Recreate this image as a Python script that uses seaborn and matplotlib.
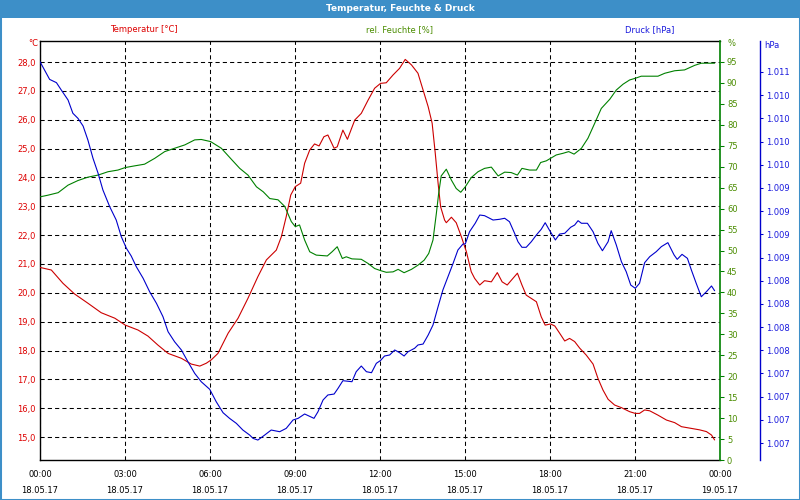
import numpy as np
import pandas as pd
import matplotlib
matplotlib.use("Agg")
import matplotlib.pyplot as plt
import seaborn as sns
from matplotlib.patches import Rectangle
from matplotlib.ticker import FuncFormatter, MultipleLocator

sns.set_style("white")
plt.rcParams['font.family'] = ['DejaVu Sans']
plt.rcParams['font.size'] = 6

# ---------------- data (hours since 18.05.17 00:00) ----------------
temp_h = [0.0, 0.40, 0.81, 1.22, 1.69, 2.16, 2.64, 3.01, 3.46, 3.81, 4.16, 4.52, 4.99, 5.34, 5.64, 5.87,
          6.05, 6.28, 6.64, 6.99, 7.34, 7.69, 7.99, 8.34, 8.52, 8.69, 8.85, 9.01, 9.20, 9.34, 9.52, 9.69,
          9.85, 10.02, 10.16, 10.38, 10.49, 10.69, 10.85, 11.11, 11.34, 11.58, 11.81, 12.02, 12.22, 12.46,
          12.69, 12.89, 13.11, 13.34, 13.52, 13.70, 13.84, 13.95, 14.05, 14.14, 14.28, 14.34, 14.52, 14.69,
          14.87, 15.05, 15.22, 15.34, 15.52, 15.69, 15.93, 16.14, 16.31, 16.49, 16.85, 17.01, 17.16, 17.52,
          17.69, 17.83, 18.02, 18.17, 18.34, 18.52, 18.69, 18.87, 19.05, 19.28, 19.52, 19.69, 19.87, 20.05,
          20.28, 20.52, 20.81, 21.01, 21.16, 21.34, 21.52, 21.81, 22.11, 22.40, 22.64, 22.99, 23.28, 23.52,
          23.70, 23.81]
temp_v = [20.88, 20.79, 20.33, 19.96, 19.64, 19.31, 19.12, 18.88, 18.71, 18.50, 18.19, 17.90, 17.73, 17.53, 17.46, 17.56,
          17.68, 17.90, 18.60, 19.12, 19.81, 20.56, 21.14, 21.48, 21.95, 22.64, 23.39, 23.68, 23.80, 24.49, 24.95, 25.16,
          25.09, 25.41, 25.47, 25.01, 25.06, 25.64, 25.32, 25.99, 26.22, 26.68, 27.09, 27.26, 27.28, 27.55,
          27.78, 28.09, 27.90, 27.61, 27.03, 26.45, 25.88, 24.84, 23.80, 22.98, 22.52, 22.43, 22.62, 22.43,
          21.95, 21.42, 20.73, 20.50, 20.27, 20.42, 20.38, 20.70, 20.38, 20.27, 20.68, 20.27, 19.92, 19.69,
          19.17, 18.88, 18.92, 18.85, 18.60, 18.33, 18.42, 18.31, 18.08, 17.84, 17.53, 17.04, 16.63, 16.31,
          16.11, 16.02, 15.88, 15.82, 15.82, 15.94, 15.91, 15.76, 15.59, 15.50, 15.36, 15.30, 15.25, 15.19,
          15.07, 14.90]

hum_h = [0.0, 0.28, 0.64, 0.99, 1.34, 1.69, 2.05, 2.40, 2.75, 3.01, 3.34, 3.69, 4.05, 4.40, 4.75, 5.11,
         5.46, 5.69, 6.02, 6.40, 6.75, 7.05, 7.34, 7.64, 7.88, 8.11, 8.40, 8.64, 8.87, 9.01, 9.16, 9.34,
         9.52, 9.75, 10.14, 10.31, 10.49, 10.67, 10.81, 11.01, 11.34, 11.58, 11.81, 12.02, 12.22, 12.46,
         12.64, 12.85, 13.11, 13.34, 13.56, 13.72, 13.87, 13.99, 14.07, 14.16, 14.34, 14.52, 14.69, 14.85,
         15.01, 15.22, 15.46, 15.69, 15.93, 16.17, 16.40, 16.63, 16.85, 17.01, 17.28, 17.52, 17.67, 17.87,
         18.02, 18.22, 18.46, 18.66, 18.85, 19.11, 19.34, 19.58, 19.81, 20.11, 20.34, 20.58, 20.81, 21.01,
         21.22, 21.81, 22.05, 22.40, 22.75, 23.11, 23.34, 23.81]
hum_v = [62.8, 63.2, 63.8, 65.6, 66.7, 67.5, 68.0, 68.8, 69.2, 69.8, 70.2, 70.6, 72.0, 73.6, 74.4, 75.2,
         76.4, 76.5, 76.0, 74.4, 71.8, 69.6, 68.0, 65.2, 64.0, 62.4, 62.1, 60.5, 56.9, 55.7, 56.1, 52.5,
         49.7, 48.9, 48.7, 49.7, 50.9, 48.1, 48.5, 48.0, 47.9, 46.9, 45.7, 45.2, 44.8, 44.9,
         45.5, 44.7, 45.5, 46.5, 47.7, 49.3, 52.5, 58.9, 63.6, 67.8, 69.4, 66.8, 64.8, 63.9,
         65.2, 67.4, 68.8, 69.6, 69.9, 67.8, 68.7, 68.6, 68.0, 69.6, 69.2, 69.2, 71.0, 71.4,
         72.0, 72.8, 73.2, 73.6, 73.0, 74.4, 76.8, 80.4, 83.9, 86.1, 88.3, 89.7, 90.7, 91.1,
         91.6, 91.6, 92.3, 92.9, 93.1, 94.2, 94.7, 94.7]

pres_h = [0.0, 0.16, 0.34, 0.58, 0.75, 0.99, 1.16, 1.34, 1.52, 1.69, 1.87, 2.05, 2.22, 2.46, 2.69, 2.87,
          3.05, 3.22, 3.40, 3.64, 3.87, 4.11, 4.34, 4.52, 4.75, 4.99, 5.22, 5.46, 5.69, 5.99, 6.22, 6.46,
          6.69, 6.93, 7.16, 7.40, 7.52, 7.69, 7.93, 8.16, 8.46, 8.69, 8.93, 9.11, 9.34, 9.67, 9.81, 9.99,
          10.16, 10.38, 10.52, 10.69, 11.01, 11.16, 11.34, 11.52, 11.70, 11.87, 12.02, 12.16, 12.34, 12.52,
          12.69, 12.85, 12.99, 13.22, 13.34, 13.52, 13.70, 13.87, 14.05, 14.22, 14.40, 14.58, 14.75, 14.93,
          15.01, 15.16, 15.36, 15.52, 15.69, 15.99, 16.22, 16.40, 16.57, 16.75, 16.87, 17.01, 17.16, 17.34,
          17.52, 17.69, 17.83, 17.97, 18.19, 18.34, 18.52, 18.73, 18.87, 18.99, 19.11, 19.32, 19.52, 19.69,
          19.85, 20.05, 20.16, 20.34, 20.52, 20.69, 20.85, 21.01, 21.16, 21.34, 21.52, 21.75, 21.93, 22.16,
          22.38, 22.49, 22.66, 22.85, 22.99, 23.16, 23.34, 23.52, 23.70, 23.81]
pres_v = [1010.711, 1010.620, 1010.520, 1010.485, 1010.406, 1010.298, 1010.155, 1010.100, 1010.018, 1009.867,
          1009.670, 1009.508, 1009.328, 1009.148, 1009.004, 1008.824, 1008.699, 1008.616, 1008.500, 1008.376,
          1008.231, 1008.106, 1007.962, 1007.800, 1007.692, 1007.603, 1007.477, 1007.351, 1007.261, 1007.179,
          1007.045, 1006.927, 1006.866, 1006.812, 1006.740, 1006.686, 1006.650, 1006.632, 1006.686, 1006.740,
          1006.722, 1006.758, 1006.848, 1006.866, 1006.913, 1006.866, 1006.937, 1007.064, 1007.118, 1007.128,
          1007.190, 1007.272, 1007.261, 1007.369, 1007.430, 1007.369, 1007.358, 1007.459, 1007.490, 1007.538,
          1007.549, 1007.603, 1007.574, 1007.538, 1007.584, 1007.621, 1007.657, 1007.667, 1007.764, 1007.872,
          1008.070, 1008.250, 1008.393, 1008.537, 1008.681, 1008.746, 1008.746, 1008.878, 1008.969, 1009.058,
          1009.051, 1009.004, 1009.012, 1009.023, 1008.986, 1008.861, 1008.770, 1008.710, 1008.710, 1008.770,
          1008.843, 1008.904, 1008.975, 1008.900, 1008.789, 1008.853, 1008.861, 1008.926, 1008.950, 1008.997,
          1008.969, 1008.969, 1008.878, 1008.753, 1008.673, 1008.770, 1008.889, 1008.735, 1008.555, 1008.447,
          1008.303, 1008.268, 1008.322, 1008.544, 1008.609, 1008.663, 1008.717, 1008.760, 1008.627, 1008.580,
          1008.634, 1008.591, 1008.465, 1008.322, 1008.177, 1008.231, 1008.293, 1008.242]

time_labels = ["00:00", "03:00", "06:00", "09:00", "12:00", "15:00", "18:00", "21:00", "00:00"]
date_labels = ["18.05.17"] * 8 + ["19.05.17"]
temp_ticks = list(range(15, 29))
hum_ticks = list(range(0, 100, 5))
pres_tick_labels = ["1.007"] * 4 + ["1.008"] * 4 + ["1.009"] * 4 + ["1.010"] * 4 + ["1.011"]

title = "Temperatur, Feuchte & Druck"
series_names = ["Temperatur [°C]", "rel. Feuchte [%]", "Druck [hPa]"]

# ---------------- styling ----------------
BAR = "#3d8fc8"
RED, GREEN, BLUE = "#cc0000", "#008000", "#0000cc"
RED_T, GREEN_T, BLUE_T = "#dd0000", "#4a8c00", "#1a1add"

W, H = 800, 500
fig = plt.figure(figsize=(8, 5), dpi=100)
fig.patch.set_facecolor("white")


def fx(px):
    return px / W


def fy(py):
    return 1 - py / H


# title bar and frame
fig.add_artist(Rectangle((0, fy(18)), 1, 18 / H, transform=fig.transFigure,
                         facecolor=BAR, edgecolor="none", zorder=0))
fig.add_artist(Rectangle((0, 0), 1, 1, transform=fig.transFigure, fill=False,
                         edgecolor=BAR, linewidth=2.2, zorder=10))
fig.text(0.5, fy(8.5), title, color="white", fontsize=6.5, fontweight="bold",
         ha="center", va="center")

TOP, BOT = 41, 460
ax = fig.add_axes([fx(40), fy(BOT), fx(720) - fx(40), fy(TOP) - fy(BOT)])
ax.set_facecolor("none")

df_t = pd.DataFrame({"h": temp_h, "v": temp_v})
df_f = pd.DataFrame({"h": hum_h, "v": hum_v})
df_p = pd.DataFrame({"h": pres_h, "v": pres_v})

# temperature axis
sns.lineplot(data=df_t, x="h", y="v", ax=ax, color=RED, linewidth=0.8, legend=False, zorder=3)
ax.set_xlim(0, 24)
ax.set_ylim(14.205, 28.728)
ax.set_yticks(temp_ticks)
ax.yaxis.set_major_formatter(FuncFormatter(lambda v, p: f"{v:.1f}".replace(".", ",")))
ax.tick_params(axis="y", length=0, pad=3, labelcolor=RED_T, labelsize=6)
ax.set_xticks(range(0, 25, 3))
ax.set_xticklabels([f"{t}\n{d}" for t, d in zip(time_labels, date_labels)], linespacing=2.0)
ax.xaxis.set_minor_locator(MultipleLocator(1))
ax.tick_params(axis="x", which="major", length=4, width=0.75, direction="out", pad=3,
               color="black", labelcolor="black", labelsize=6)
ax.tick_params(axis="x", which="minor", length=2.5, width=0.75, direction="out", color="black")
ax.grid(True, which="major", color="black", linestyle=(0, (4, 3)), linewidth=0.75)
ax.set_xlabel("")
ax.set_ylabel("")
for s in ["left", "top", "bottom"]:
    ax.spines[s].set_color("black")
    ax.spines[s].set_linewidth(1.0)
ax.spines["right"].set_visible(False)

# humidity axis
ax2 = ax.twinx()
sns.lineplot(data=df_f, x="h", y="v", ax=ax2, color=GREEN, linewidth=0.8, legend=False)
ax2.set_ylim(0, 100.0)
ax2.set_yticks(hum_ticks)
ax2.tick_params(axis="y", length=3, width=0.75, direction="out", pad=2,
                color=GREEN, labelcolor=GREEN_T, labelsize=6)
ax2.set_ylabel("")
for s in ["left", "top", "bottom"]:
    ax2.spines[s].set_visible(False)
ax2.spines["right"].set_color(GREEN)
ax2.spines["right"].set_linewidth(1.2)

# pressure axis
ax3 = ax.twinx()
sns.lineplot(data=df_p, x="h", y="v", ax=ax3, color=BLUE, linewidth=0.8, legend=False)
p_lo, p_hi = 1006.417, 1010.934
ax3.set_ylim(p_lo, p_hi)
ax3.set_yticks(np.arange(1006.6, 1010.61, 0.25))
ax3.set_yticklabels(pres_tick_labels)
ax3.tick_params(axis="y", length=2.5, width=0.75, direction="out", pad=2,
                color=BLUE, labelcolor=BLUE_T, labelsize=6)
ax3.set_ylabel("")
for s in ["left", "top", "bottom"]:
    ax3.spines[s].set_visible(False)
ax3.spines["right"].set_position(("axes", (760 - 40) / 680))
ax3.spines["right"].set_color(BLUE)
ax3.spines["right"].set_linewidth(1.0)

# series captions and units
fig.text(fx(144), fy(30), series_names[0], color=RED_T, ha="center", va="center", fontsize=6)
fig.text(fx(400), fy(30), series_names[1], color=GREEN_T, ha="center", va="center", fontsize=6)
fig.text(fx(650), fy(30), series_names[2], color=BLUE_T, ha="center", va="center", fontsize=6)
fig.text(fx(33), fy(44), "°C", color=RED_T, ha="center", va="center", fontsize=6)
fig.text(fx(731), fy(44), "%", color=GREEN_T, ha="center", va="center", fontsize=6)
fig.text(fx(772), fy(45), "hPa", color=BLUE_T, ha="center", va="center", fontsize=6)

fig.savefig("out.png", dpi=100)
